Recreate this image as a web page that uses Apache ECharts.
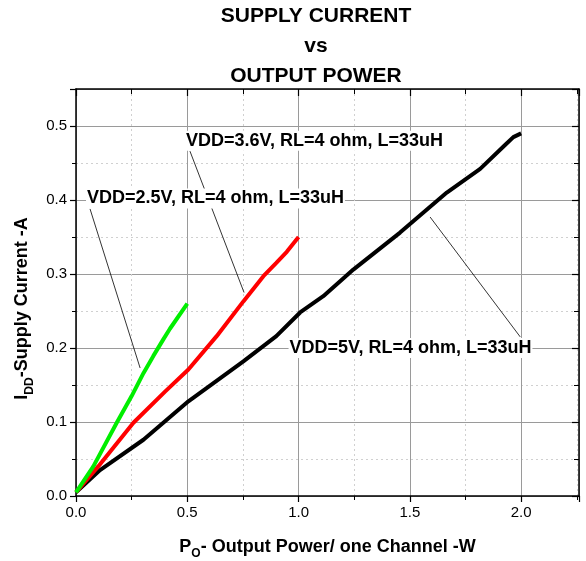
<!DOCTYPE html>
<html>
<head>
<meta charset="utf-8">
<script src="https://cdn.jsdelivr.net/npm/echarts@6/dist/echarts.min.js"></script>
<style>
  html, body { margin: 0; padding: 0; background: #fff; }
  #chart { width: 586px; height: 561px; }
</style>
</head>
<body>
<div id="chart"></div>
<script>
// curves: [Po (W), Idd (A)]
var vdd25 = [[0, 0.005], [0.078, 0.040], [0.183, 0.099], [0.25, 0.135], [0.303, 0.166], [0.347, 0.189], [0.393, 0.212], [0.422, 0.226], [0.5, 0.26]];
var vdd36 = [[0, 0.005], [0.1, 0.040], [0.258, 0.099], [0.4, 0.141], [0.505, 0.171], [0.632, 0.216], [0.752, 0.263], [0.842, 0.297], [0.9, 0.315], [0.947, 0.33], [1.0, 0.35]];
var vdd50 = [[0, 0.005], [0.108, 0.035], [0.303, 0.076], [0.505, 0.128], [0.752, 0.182], [0.9, 0.216], [1.007, 0.248], [1.111, 0.27], [1.246, 0.306], [1.456, 0.356], [1.666, 0.41], [1.816, 0.442], [1.93, 0.475], [1.965, 0.485], [2.0, 0.49]];

// annotation text anchors (left-middle) and leader lines, in data units
var notes = [
  [0.49, 0.48, 'VDD=3.6V, RL=4 ohm, L=33uH'],
  [0.045, 0.402, 'VDD=2.5V, RL=4 ohm, L=33uH'],
  [0.955, 0.2, 'VDD=5V, RL=4 ohm, L=33uH']
];
var leader36 = [[0.512, 0.466], [0.755, 0.275]];
var leader25 = [[0.063, 0.388], [0.288, 0.173]];
var leader50 = [[1.591, 0.377], [1.996, 0.215]];

var xTicks = { min: 0, max: 2.26, interval: 0.5 };
var yTicks = { min: 0, max: 0.55, interval: 0.1 };

var font = 'Arial, "Liberation Sans", sans-serif';

function axisBase(pos, show) {
  return {
    type: 'value',
    position: pos,
    axisLine: { show: true, onZero: false, lineStyle: { color: '#000', width: 1.5 } },
    axisTick: { show: true, inside: !show, length: show ? 6 : 7, lineStyle: { color: '#000', width: 1.2 } },
    minorTick: { show: true, splitNumber: 2, length: show ? 4 : 5, lineStyle: { color: '#000', width: 1 } },
    axisLabel: { show: show, color: '#000', fontFamily: font, fontSize: 15, showMaxLabel: false, margin: 9,
      formatter: function (v) { return v.toFixed(1); } },
    splitLine: { show: show, lineStyle: { color: '#9a9a9a', width: 1 } },
    minorSplitLine: { show: show, lineStyle: { color: '#d0d0d0', width: 1, type: [2, 3] } }
  };
}

var nameRich = {
  b: { fontFamily: font, fontSize: 18, fontWeight: 'bold', color: '#000', lineHeight: 26 },
  s: { fontFamily: font, fontSize: 12, fontWeight: 'bold', color: '#000', lineHeight: 26, verticalAlign: 'bottom' }
};

var xMain = Object.assign(axisBase('bottom', true), xTicks, {
  name: '{b|P}{s|O}{b|- Output Power/ one Channel -W}',
  nameLocation: 'middle', nameGap: 38,
  nameTextStyle: { rich: nameRich }
});
var xTop = Object.assign(axisBase('top', false), xTicks);
var yMain = Object.assign(axisBase('left', true), yTicks, {
  name: '{b|I}{s|DD}{b|-Supply Current -A}',
  nameLocation: 'middle', nameGap: 38,
  nameTextStyle: { rich: nameRich, padding: [0, 32, 0, 0] }
});
var yRight = Object.assign(axisBase('right', false), yTicks);

function curve(data, color) {
  return { type: 'line', data: data, showSymbol: false, smooth: false, silent: true,
    lineStyle: { color: color, width: 4 }, z: 5 };
}
function leader(data) {
  return { type: 'line', data: data, showSymbol: false, silent: true,
    lineStyle: { color: '#000', width: 0.8 }, z: 4 };
}

var option = {
  backgroundColor: '#fff',
  animation: false,
  title: {
    text: 'SUPPLY CURRENT\nvs\nOUTPUT POWER',
    left: 311, top: -4, textAlign: 'center',
    textStyle: { fontFamily: font, fontSize: 21, fontWeight: 'bold', color: '#000', lineHeight: 30 }
  },
  grid: { left: 76, right: 7, top: 89, bottom: 65, outerBoundsMode: 'none', containLabel: false },
  xAxis: [xMain, xTop],
  yAxis: [yMain, yRight],
  series: [
    curve(vdd50, '#000000'),
    curve(vdd36, '#ff0000'),
    curve(vdd25, '#00ee00'),
    leader(leader36),
    leader(leader25),
    leader(leader50),
    {
      type: 'scatter', symbolSize: 0, silent: true, z: 6,
      itemStyle: { opacity: 1 },
      data: notes,
      label: {
        show: true, position: 'right', distance: 0, opacity: 1,
        formatter: function (p) { return p.value[2]; },
        fontFamily: font, fontSize: 18, fontWeight: 'bold', color: '#000000',
        textBorderWidth: 0, backgroundColor: '#fff', padding: [1, 1, 1, 1]
      }
    }
  ]
};

var myChart = echarts.init(document.getElementById('chart'));
myChart.setOption(option);
</script>
</body>
</html>
